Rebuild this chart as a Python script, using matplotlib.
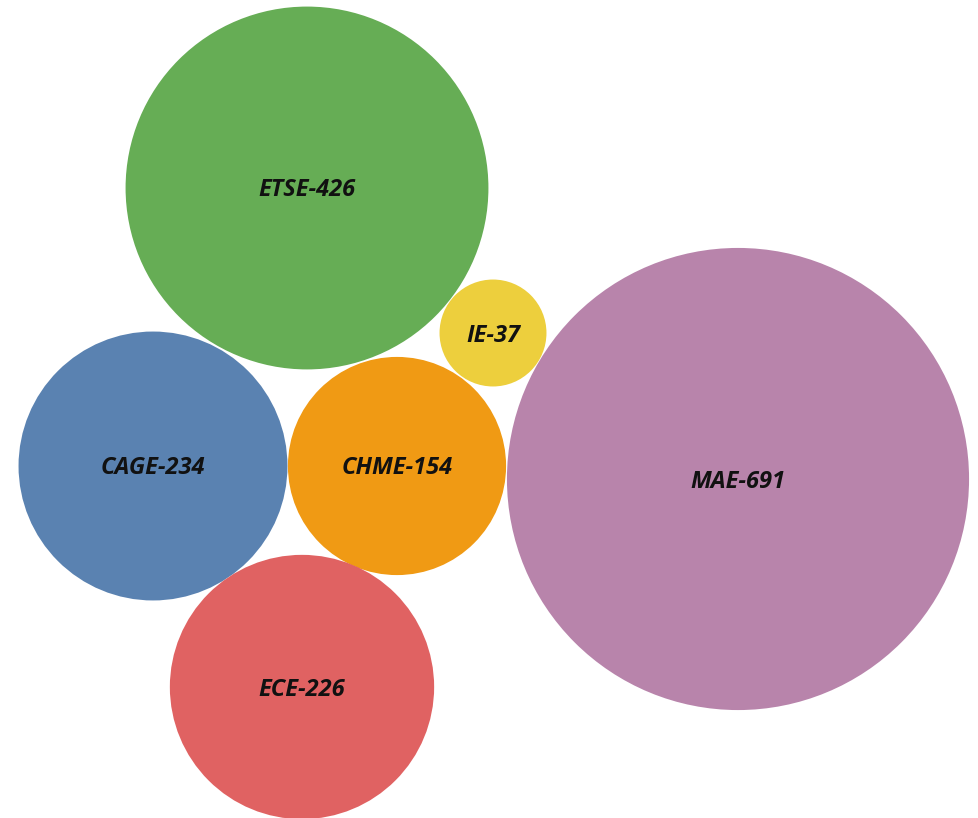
import numpy as np
import matplotlib
matplotlib.use("Agg")
import matplotlib.pyplot as plt
from matplotlib.patches import Circle

labels = ["ETSE", "IE", "MAE", "CAGE", "CHME", "ECE"]
values = [426, 37, 691, 234, 154, 226]
x = [307, 493, 738, 153, 397, 302]
y = [188, 333, 479, 466, 466, 687]
colors = ["#66AD55", "#EDCF3D", "#B884AB", "#5A82B1", "#F09A14", "#E06262"]

fig = plt.figure(figsize=(9.79, 8.18), dpi=100)
ax = fig.add_axes([0, 0, 1, 1])
ax.set_xlim(0, 979)
ax.set_ylim(818, 0)
ax.set_aspect("equal")
ax.axis("off")

scale = 8.79
for lab, v, cx, cy, c in zip(labels, values, x, y, colors):
    r = scale * np.sqrt(v)
    ax.add_patch(Circle((cx, cy), r, facecolor=c, edgecolor="none"))
    ax.text(cx, cy + 2.5, f"{lab}-{v}", ha="center", va="center", fontsize=17,
            fontweight="bold", fontstyle="italic", family="Open Sans", color="#111111")

fig.savefig("out.png", dpi=100)
